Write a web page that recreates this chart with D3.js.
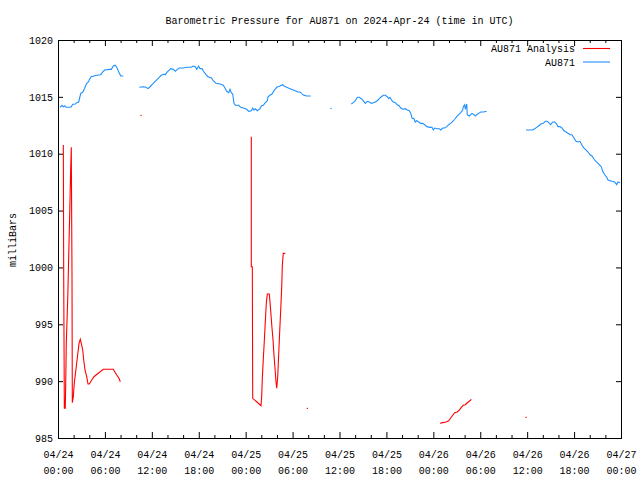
<!DOCTYPE html>
<html>
<head>
<meta charset="utf-8">
<script src="https://cdn.jsdelivr.net/npm/d3@7"></script>
<style>
  html, body { margin: 0; padding: 0; background: #fff; }
  svg { display: block; }
  text { font-family: "Liberation Mono", "DejaVu Sans Mono", monospace; font-size: 10px; fill: #000; }
</style>
</head>
<body>
<svg id="chart" width="640" height="480"></svg>
<script>
// ---- data (hours since 2024-04-24 00:00 UTC, pressure in mb); null = gap ----
const titleText = "Barometric Pressure for AU871 on 2024-Apr-24 (time in UTC)";
const yLabelText = "milliBars";
const seriesNames = ["AU871 Analysis", "AU871"];
const yTicks = [985, 990, 995, 1000, 1005, 1010, 1015, 1020];
const xMajorHours = [0, 6, 12, 18, 24, 30, 36, 42, 48, 54, 60, 66, 72];

const blueHours = [
  0.26,0.51,0.68,0.86,1.02,1.53,1.70,1.88,2.21,2.39,2.65,2.81,2.90,3.16,3.41,3.67,3.92,4.00,4.26,4.95,5.46,5.72,5.97,6.56,6.82,7.07,7.33,7.51,7.76,8.02,8.35,
  null,
  10.40,10.91,11.25,11.51,11.77,12.19,12.53,12.88,13.21,13.56,13.72,13.98,14.23,14.41,14.75,15.00,15.26,15.51,16.02,16.46,17.05,17.30,17.56,17.74,17.99,18.16,18.42,18.67,18.93,19.18,19.61,19.86,20.21,20.72,21.14,21.40,21.57,21.83,22.00,22.16,22.34,22.51,22.67,23.11,23.36,23.70,24.13,24.39,24.72,24.90,25.07,25.23,25.49,25.83,26.00,26.26,26.43,26.77,26.86,27.11,27.37,27.62,27.97,28.39,28.74,28.90,29.25,29.67,30.09,30.69,30.95,31.37,31.81,32.32,
  null,
  34.91,
  null,
  37.51,37.76,38.02,38.28,38.53,38.79,39.04,39.30,39.56,39.81,40.07,40.32,40.58,40.83,41.09,41.35,41.60,41.86,42.11,42.29,42.46,42.71,42.88,43.14,43.39,43.65,43.83,44.08,44.42,44.67,44.93,45.11,45.27,45.53,45.69,45.87,46.13,46.38,46.64,46.90,47.15,47.57,47.83,48.00,48.17,48.51,48.76,48.94,49.20,49.45,49.71,49.97,50.22,50.48,50.73,50.99,51.24,51.50,51.76,51.83,52.01,52.09,52.27,52.34,52.60,52.78,52.94,53.20,53.37,53.55,53.80,54.06,54.39,54.82,
  null,
  59.85,60.71,60.96,61.22,61.47,61.73,62.06,62.32,62.57,62.75,63.01,63.27,63.52,63.78,63.94,64.20,64.45,64.71,64.97,65.22,65.48,65.73,65.99,66.25,66.50,66.76,67.01,67.27,67.52,67.78,68.04,68.29,68.55,68.80,69.06,69.31,69.48,69.66,69.92,70.17,70.34,70.59,70.85,71.19,71.45,71.62,71.87
];
const bluePressure = [
  1014.08,1014.26,1014.13,1014.22,1014.08,1014.08,1014.13,1014.35,1014.37,1014.49,1014.55,1015.01,1015.31,1015.40,1015.75,1016.19,1016.33,1016.51,1016.77,1016.90,1016.95,1017.19,1017.36,1017.42,1017.42,1017.71,1017.78,1017.60,1017.21,1016.83,1016.83,
  null,
  1015.84,1015.89,1015.84,1015.72,1015.89,1016.19,1016.42,1016.66,1016.90,1017.01,1016.95,1017.19,1017.36,1017.48,1017.42,1017.25,1017.42,1017.54,1017.54,1017.60,1017.60,1017.71,1017.65,1017.42,1017.71,1017.48,1017.48,1017.19,1016.95,1016.77,1016.66,1016.42,1016.19,1016.13,1016.02,1015.72,1015.49,1015.37,1015.66,1015.37,1015.25,1014.43,1014.26,1014.26,1014.08,1014.02,1013.91,1013.73,1013.78,1014.02,1013.84,1013.96,1013.78,1013.96,1014.20,1014.26,1014.43,1014.66,1015.01,1015.14,1015.25,1015.54,1015.84,1015.96,1016.07,1015.96,1015.84,1015.72,1015.60,1015.43,1015.43,1015.16,1015.08,1015.08,
  null,
  1013.99,
  null,
  1014.37,1014.49,1014.66,1014.96,1014.96,1014.84,1014.66,1014.43,1014.61,1014.55,1014.43,1014.49,1014.55,1014.66,1014.84,1015.01,1015.14,1015.14,1015.01,1014.84,1014.96,1014.66,1014.55,1014.49,1014.31,1014.20,1014.02,1013.91,1013.96,1013.84,1013.78,1013.55,1013.14,1013.08,1012.79,1012.90,1012.79,1012.67,1012.67,1012.55,1012.38,1012.32,1012.32,1012.09,1012.26,1012.20,1012.20,1012.09,1012.26,1012.26,1012.38,1012.55,1012.67,1012.85,1013.03,1013.26,1013.43,1013.61,1013.84,1014.13,1014.31,1013.91,1014.37,1013.43,1013.32,1013.43,1013.55,1013.43,1013.32,1013.43,1013.55,1013.67,1013.67,1013.73,
  null,
  1012.09,1012.09,1012.20,1012.32,1012.44,1012.61,1012.67,1012.85,1012.85,1012.73,1012.55,1012.79,1012.79,1012.61,1012.38,1012.38,1012.26,1012.02,1011.91,1011.80,1011.67,1011.67,1011.38,1011.09,1011.03,1011.09,1010.74,1010.50,1010.33,1010.15,1009.91,1009.80,1009.51,1009.33,1009.16,1008.98,1008.86,1008.45,1008.15,1007.93,1007.69,1007.63,1007.57,1007.51,1007.28,1007.51,1007.45
];

const redHours = [
  0.68,0.73,0.81,0.93,0.98,1.06,1.24,1.37,1.50,1.62,1.70,1.79,1.83,1.96,2.08,2.21,2.39,2.56,2.69,2.85,2.98,3.16,3.29,3.45,3.67,3.84,4.00,4.31,4.60,5.15,5.79,7.07,7.51,7.80,7.97,
  null,
  10.61,
  null,
  24.72,24.72,24.85,24.90,25.41,25.96,26.05,26.13,26.26,26.38,26.51,26.64,26.77,27.02,27.11,27.24,27.37,27.50,27.62,27.75,27.88,27.97,28.10,28.22,28.35,28.48,28.61,28.69,28.81,29.07,
  null,
  31.88,
  null,
  48.85,49.20,49.62,49.97,50.22,50.48,50.73,51.07,51.32,51.58,51.83,52.09,52.34,52.60,52.86,
  null,
  59.85
];
const redPressure = [
  1010.77,999.18,987.61,987.61,989.51,993.33,997.14,1001.01,1004.76,1008.63,1010.56,999.33,988.10,988.63,989.81,990.54,991.57,992.59,993.33,993.68,993.33,992.74,991.86,990.98,990.39,989.75,989.75,990.10,990.39,990.69,991.04,991.04,990.54,990.25,989.95,
  null,
  1013.38,
  null,
  1011.50,1000.06,1000.06,988.49,988.19,987.84,988.69,990.25,992.01,993.47,995.23,996.85,997.66,997.66,996.99,995.82,994.65,993.62,992.30,991.13,989.95,989.37,990.39,992.30,994.35,996.26,998.31,1000.21,1001.24,1001.24,
  null,
  987.61,
  null,
  986.29,986.35,986.41,986.52,986.76,987.00,987.22,987.29,987.46,987.70,987.88,987.93,988.10,988.23,988.40,
  null,
  986.82
];

// ---- layout ----
const W = 640, H = 480;
const margin = { left: 58, right: 19, top: 40, bottom: 42 };
const t0 = Date.UTC(2024, 3, 24, 0, 0);
const hourMs = 3600 * 1000;
const colors = { red: "#ff0000", blue: "#1e90ff" };

const svg = d3.select("#chart");
const x = d3.scaleTime()
  .domain([new Date(t0), new Date(t0 + 72 * hourMs)])
  .range([margin.left, W - margin.right]);
const y = d3.scaleLinear()
  .domain([985, 1020])
  .range([H - margin.bottom, margin.top]);

const toDate = h => new Date(t0 + h * hourMs);
const majorDates = xMajorHours.map(toDate);
const minorDates = d3.range(0, 73, 2).filter(h => h % 6 !== 0).map(toDate);

const fmtDay = d3.utcFormat("%m/%d");
const fmtTime = d3.utcFormat("%H:%M");

// axes
const gBottom = svg.append("g").attr("transform", `translate(0,${H - margin.bottom})`)
  .call(d3.axisBottom(x).tickValues(majorDates).tickSizeInner(-6).tickSizeOuter(0).tickPadding(8).tickFormat(() => ""));
gBottom.selectAll(".tick text").each(function(d) {
  const t = d3.select(this);
  t.attr("dy", null).attr("y", 0);
  t.append("tspan").attr("x", 0).attr("y", 19.5).text(fmtDay(d));
  t.append("tspan").attr("x", 0).attr("y", 35.5).text(fmtTime(d));
});
svg.append("g").attr("transform", `translate(0,${H - margin.bottom})`)
  .call(d3.axisBottom(x).tickValues(minorDates).tickSizeInner(-3).tickSizeOuter(0).tickFormat(() => ""));

svg.append("g").attr("transform", `translate(0,${margin.top})`)
  .call(d3.axisTop(x).tickValues(majorDates).tickSizeInner(-6).tickSizeOuter(0).tickFormat(() => ""));
svg.append("g").attr("transform", `translate(0,${margin.top})`)
  .call(d3.axisTop(x).tickValues(minorDates).tickSizeInner(-3).tickSizeOuter(0).tickFormat(() => ""));

svg.append("g").attr("transform", `translate(${margin.left},0)`)
  .call(d3.axisLeft(y).tickValues(yTicks).tickSizeInner(-5).tickSizeOuter(0).tickPadding(5).tickFormat(d3.format("d")));
svg.append("g").attr("transform", `translate(${W - margin.right},0)`)
  .call(d3.axisRight(y).tickValues(yTicks).tickSizeInner(-5).tickSizeOuter(0).tickFormat(() => ""));

svg.selectAll(".domain").remove();
svg.selectAll(".tick line").attr("stroke", "#000");
svg.selectAll(".tick text").attr("font-family", null).attr("font-size", null).attr("fill", "#000");
svg.selectAll("g").attr("font-family", null).attr("font-size", null);

// frame
svg.append("rect")
  .attr("x", margin.left + 0.5).attr("y", margin.top + 0.5)
  .attr("width", W - margin.left - margin.right).attr("height", H - margin.top - margin.bottom)
  .attr("fill", "none").attr("stroke", "#000").attr("stroke-width", 1);

// series
function segments(hours, vals) {
  const segs = []; let cur = [];
  hours.forEach((h, i) => {
    if (h === null || vals[i] === null) { if (cur.length) segs.push(cur); cur = []; }
    else cur.push({ t: toDate(h), v: vals[i] });
  });
  if (cur.length) segs.push(cur);
  return segs;
}
const line = d3.line().x(d => x(d.t)).y(d => y(d.v));
function drawSeries(hours, vals, color) {
  const g = svg.append("g");
  segments(hours, vals).forEach(seg => {
    if (seg.length === 1) {
      g.append("rect").attr("x", x(seg[0].t) - 0.5).attr("y", y(seg[0].v) - 0.5)
        .attr("width", 1.2).attr("height", 1.2).attr("fill", color);
    } else {
      g.append("path").datum(seg).attr("d", line)
        .attr("fill", "none").attr("stroke", color).attr("stroke-width", 1.1)
        .attr("stroke-linejoin", "miter");
    }
  });
}
drawSeries(redHours, redPressure, colors.red);
drawSeries(blueHours, bluePressure, colors.blue);

// title & labels
svg.append("text").attr("x", (margin.left + W - margin.right) / 2).attr("y", 23.5)
  .attr("text-anchor", "middle").text(titleText);
svg.append("text").attr("transform", "translate(15.5,240) rotate(-90)")
  .attr("text-anchor", "middle").text(yLabelText);

// legend
const legendColors = [colors.red, colors.blue];
seriesNames.forEach((name, i) => {
  const yy = 48.5 + i * 13.5;
  svg.append("text").attr("x", 575).attr("y", yy + 3.5).attr("text-anchor", "end").text(name);
  svg.append("line").attr("x1", 583).attr("x2", 610).attr("y1", yy).attr("y2", yy)
    .attr("stroke", legendColors[i]).attr("stroke-width", 1.1);
});
</script>
</body>
</html>
